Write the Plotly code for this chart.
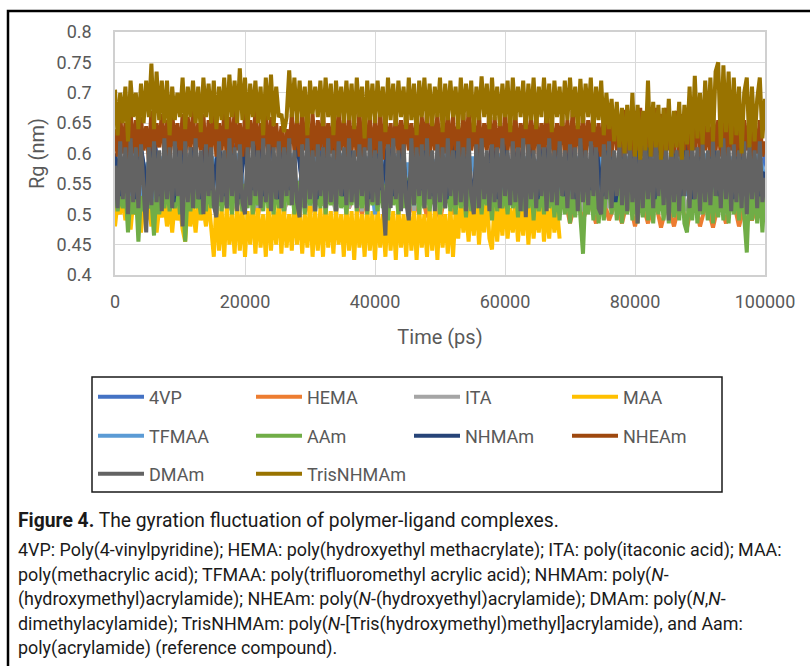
import plotly.graph_objects as go

# ---------------- sampling grid (ps) ----------------
TIME_STEP_FINE_PS = 400
TIME_STEP_COARSE_PS = 1000
TIME_END_PS = 100000
time_fine = list(range(0, TIME_END_PS + 1, TIME_STEP_FINE_PS))
time_coarse = list(range(0, TIME_END_PS + 1, TIME_STEP_COARSE_PS))

# ---------------- Rg values (nm) ----------------
rg_4vp = [
    .60, .53, .625, .54, .61, .525, .63, .545, .615, .53,
    .62, .54, .61, .53, .635, .545, .60, .53, .625, .54,
    .61, .525, .63, .54, .62, .535, .605, .545, .63, .53,
    .615, .54, .625, .53, .61, .545, .635, .535, .62, .54,
    .645, .53, .62, .54, .61, .535, .63, .545, .615, .53,
    .625, .54, .61, .535, .63, .545, .62, .53, .615, .54,
    .63, .535, .61, .545, .625, .53, .62, .54, .61, .535,
    .63, .545, .615, .53, .625, .54, .61, .535, .63, .545,
    .62, .53, .615, .54, .63, .535, .61, .545, .625, .53,
    .615, .54, .63, .535, .62, .545, .625, .53, .615, .54,
    .60]

rg_hema = [
    .52, .55, .505, .545, .51, .55, .50, .54, .515, .55,
    .505, .545, .51, .55, .50, .54, .515, .545, .505, .55,
    .51, .545, .50, .55, .515, .54, .505, .545, .51, .55,
    .50, .54, .515, .55, .505, .545, .51, .54, .50, .55,
    .515, .545, .505, .55, .51, .54, .50, .545, .495, .54,
    .49, .545, .50, .54, .495, .55, .49, .545, .50, .54,
    .495, .55, .49, .545, .50, .54, .495, .55, .49, .54,
    .485, .53, .49, .525, .485, .535, .49, .52, .485, .53,
    .48, .525, .485, .53, .478, .52, .48, .525, .478, .53,
    .48, .52, .478, .525, .485, .53, .48, .52, .49, .525,
    .50]

rg_ita = [
    .495, .56, .50, .57, .51, .565, .505, .575, .51, .56,
    .505, .57, .51, .56, .50, .575, .515, .565, .505, .57,
    .51, .56, .505, .575, .515, .565, .50, .57, .51, .56,
    .505, .575, .515, .56, .50, .57, .51, .565, .505, .575,
    .515, .56, .50, .57, .51, .565, .505, .575, .515, .56,
    .50, .57, .51, .565, .505, .575, .515, .56, .50, .57,
    .51, .565, .505, .575, .515, .56, .50, .57, .51, .565,
    .50, .56, .505, .555, .50, .565, .51, .56, .50, .555,
    .505, .56, .50, .565, .51, .555, .50, .56, .505, .565,
    .50, .555, .51, .56, .50, .565, .505, .555, .50, .56,
    .52]

rg_maa = [
    .48, .52, .50, .525, .49, .515, .475, .52, .50, .51,
    .47, .52, .49, .515, .48, .525, .47, .51, .495, .52,
    .48, .515, .47, .52, .49, .51, .475, .455, .52, .48,
    .515, .47, .52, .49, .51, .48, .525, .47, .43, .52,
    .44, .51, .43, .515, .45, .50, .435, .52, .44, .51,
    .43, .505, .45, .52, .435, .51, .445, .50, .43, .515,
    .44, .505, .45, .525, .435, .51, .445, .50, .44, .52,
    .45, .51, .435, .50, .445, .52, .43, .505, .44, .51,
    .43, .52, .445, .505, .435, .51, .45, .50, .43, .515,
    .44, .505, .425, .51, .445, .50, .43, .515, .44, .505,
    .425, .51, .445, .50, .43, .515, .44, .505, .425, .51,
    .445, .50, .43, .515, .44, .505, .425, .51, .445, .50,
    .43, .51, .44, .505, .425, .515, .445, .50, .435, .51,
    .43, .505, .46, .525, .47, .51, .455, .52, .465, .53,
    .45, .515, .47, .53, .46, .442, .52, .455, .515, .465,
    .525, .46, .51, .47, .52, .455, .515, .465, .53, .45,
    .52, .46, .51, .47, .525, .455, .515, .46, .52, .47,
    .51, .46]

rg_tfmaa = [
    .53, .59, .52, .60, .525, .585, .515, .595, .53, .59,
    .52, .60, .525, .585, .515, .595, .53, .59, .52, .60,
    .525, .585, .515, .595, .53, .59, .52, .60, .525, .585,
    .515, .595, .53, .59, .52, .60, .525, .585, .515, .595,
    .50, .59, .52, .60, .525, .585, .515, .595, .53, .59,
    .52, .60, .525, .585, .515, .595, .53, .59, .52, .60,
    .525, .585, .515, .595, .53, .59, .52, .60, .525, .585,
    .515, .595, .53, .59, .52, .60, .525, .585, .515, .595,
    .53, .59, .52, .60, .525, .585, .515, .595, .53, .59,
    .52, .60, .525, .585, .515, .595, .53, .59, .52, .60,
    .56]

rg_aam = [
    .55, .505, .535, .51, .545, .47, .53, .50, .54, .455,
    .53, .505, .55, .51, .525, .465, .545, .50, .535, .51,
    .55, .505, .53, .51, .545, .50, .535, .455, .54, .505,
    .55, .51, .53, .50, .545, .505, .555, .51, .54, .50,
    .56, .505, .545, .51, .55, .50, .555, .515, .54, .505,
    .55, .51, .56, .50, .545, .515, .55, .505, .56, .51,
    .545, .50, .555, .51, .54, .505, .56, .515, .55, .50,
    .555, .51, .545, .50, .56, .515, .55, .505, .545, .51,
    .56, .50, .55, .515, .545, .505, .555, .51, .54, .50,
    .55, .515, .56, .505, .545, .51, .555, .50, .55, .515,
    .545, .505, .56, .51, .55, .49, .555, .515, .545, .50,
    .55, .51, .56, .505, .545, .515, .555, .50, .55, .51,
    .56, .505, .545, .515, .555, .50, .55, .51, .56, .505,
    .545, .50, .555, .51, .55, .495, .56, .505, .545, .51,
    .555, .50, .55, .515, .545, .49, .56, .505, .55, .51,
    .545, .50, .555, .51, .55, .495, .56, .505, .545, .51,
    .555, .49, .55, .505, .545, .50, .56, .51, .55, .495,
    .545, .49, .555, .50, .55, .485, .54, .495, .555, .49,
    .435, .545, .50, .555, .49, .55, .485, .54, .49, .55,
    .545, .50, .555, .49, .55, .485, .54, .50, .555, .49,
    .55, .485, .545, .495, .555, .49, .54, .485, .55, .50,
    .545, .49, .555, .485, .55, .495, .54, .49, .555, .485,
    .47, .545, .49, .555, .485, .55, .50, .545, .49, .555,
    .485, .55, .495, .545, .49, .555, .485, .55, .50, .545,
    .49, .555, .485, .437, .55, .49, .545, .485, .55, .47,
    .55]

rg_nhmam = [
    .60, .53, .62, .525, .61, .54, .625, .53, .605, .52,
    .62, .535, .61, .525, .63, .54, .615, .53, .62, .525,
    .61, .54, .625, .53, .635, .525, .615, .54, .62, .53,
    .635, .525, .61, .54, .62, .53, .625, .535, .61, .525,
    .62, .54, .615, .53, .625, .525, .61, .54, .62, .53,
    .615, .525, .625, .54, .61, .53, .62, .535, .615, .525,
    .625, .54, .61, .53, .62, .525, .615, .54, .625, .53,
    .61, .525, .62, .54, .615, .53, .625, .52, .61, .54,
    .62, .53, .615, .525, .625, .54, .61, .53, .62, .525,
    .615, .54, .62, .53, .61, .525, .625, .535, .615, .53,
    .57]

rg_nheam = [
    .64, .595, .665, .60, .65, .585, .67, .60, .655, .595,
    .66, .605, .645, .59, .67, .60, .65, .61, .665, .595,
    .655, .585, .67, .605, .65, .595, .665, .59, .66, .605,
    .67, .595, .65, .605, .665, .585, .655, .60, .67, .595,
    .65, .605, .665, .59, .66, .60, .672, .605, .65, .595,
    .665, .59, .655, .605, .67, .595, .65, .60, .665, .595,
    .66, .605, .65, .595, .645, .59, .64, .60, .665, .605,
    .655, .595, .67, .605, .65, .59, .665, .595, .655, .605,
    .67, .595, .65, .60, .665, .59, .672, .605, .655, .595,
    .665, .605, .65, .595, .67, .59, .655, .605, .665, .595,
    .65, .60, .67, .59, .66, .605, .65, .595, .665, .60,
    .655, .595, .67, .605, .65, .59, .665, .595, .66, .605,
    .67, .595, .655, .605, .665, .59, .65, .60, .67, .595,
    .66, .605, .65, .59, .665, .595, .672, .605, .655, .595,
    .665, .595, .65, .605, .67, .59, .66, .60, .65, .595,
    .67, .605, .655, .595, .665, .59, .65, .605, .67, .595,
    .655, .60, .665, .595, .65, .605, .67, .59, .66, .595,
    .65, .605, .665, .595, .655, .59, .67, .60, .65, .605,
    .665, .595, .655, .605, .67, .59, .65, .595, .665, .605,
    .655, .595, .67, .605, .66, .595, .672, .60, .665, .595,
    .67, .605, .675, .595, .665, .61, .67, .595, .675, .605,
    .665, .595, .675, .605, .66, .60, .67, .595, .665, .605,
    .67, .595, .66, .605, .675, .595, .665, .605, .65, .595,
    .665, .605, .655, .595, .67, .59, .66, .605, .65, .595,
    .665, .595, .655, .605, .66, .59, .65, .60, .655, .595,
    .62]

rg_dmam = [
    .58, .51, .62, .525, .61, .50, .625, .52, .61, .51,
    .615, .53, .47, .61, .515, .62, .52, .605, .505, .625,
    .525, .61, .51, .62, .53, .605, .48, .62, .52, .61,
    .51, .625, .525, .605, .50, .615, .53, .61, .515, .495,
    .62, .52, .605, .51, .625, .53, .61, .505, .615, .52,
    .50, .61, .515, .62, .53, .605, .51, .625, .52, .615,
    .505, .61, .525, .62, .51, .61, .53, .625, .515, .605,
    .52, .495, .615, .51, .625, .525, .605, .505, .615, .53,
    .61, .51, .625, .52, .605, .505, .62, .53, .61, .515,
    .625, .52, .605, .51, .615, .53, .61, .505, .625, .52,
    .605, .515, .62, .53, .465, .615, .51, .625, .525, .605,
    .505, .615, .52, .49, .625, .515, .61, .53, .615, .51,
    .625, .525, .605, .505, .615, .52, .61, .51, .625, .53,
    .605, .515, .62, .52, .61, .505, .625, .53, .50, .615,
    .51, .625, .525, .605, .505, .615, .52, .61, .51, .625,
    .53, .605, .515, .62, .52, .61, .505, .625, .495, .615,
    .525, .605, .51, .615, .53, .61, .505, .625, .52, .605,
    .515, .62, .53, .605, .51, .615, .525, .61, .505, .625,
    .52, .605, .515, .62, .53, .61, .51, .50, .615, .525,
    .62, .51, .605, .53, .615, .515, .61, .505, .62, .52,
    .605, .485, .62, .51, .615, .525, .605, .51, .625, .53,
    .61, .515, .615, .49, .62, .52, .605, .505, .62, .53,
    .605, .51, .62, .525, .61, .505, .615, .52, .605, .515,
    .62, .53, .605, .51, .625, .525, .61, .505, .615, .52,
    .605, .51, .62, .50, .615, .525, .605, .51, .62, .52,
    .56]

rg_trisnhmam = [
    .705, .63, .70, .65, .71, .62, .72, .66, .70, .64,
    .715, .65, .72, .66, .748, .64, .735, .655, .72, .65,
    .72, .63, .71, .655, .70, .66, .725, .64, .71, .66,
    .72, .65, .71, .635, .725, .66, .715, .65, .72, .64,
    .71, .655, .725, .64, .73, .66, .72, .65, .74, .655,
    .725, .64, .715, .66, .72, .65, .71, .63, .725, .655,
    .73, .645, .71, .66, .665, .635, .66, .737, .66, .725,
    .65, .72, .66, .71, .63, .72, .665, .71, .66, .72,
    .645, .725, .66, .715, .63, .72, .66, .71, .65, .72,
    .655, .715, .64, .725, .66, .71, .625, .72, .655, .715,
    .65, .72, .66, .71, .635, .725, .655, .715, .645, .72,
    .66, .71, .64, .725, .655, .715, .63, .72, .66, .725,
    .65, .715, .645, .71, .66, .725, .635, .715, .655, .72,
    .66, .71, .64, .725, .655, .715, .66, .72, .635, .71,
    .655, .727, .66, .715, .64, .725, .655, .71, .645, .715,
    .66, .72, .635, .725, .655, .71, .66, .72, .64, .715,
    .655, .725, .64, .71, .66, .725, .65, .715, .635, .72,
    .66, .71, .645, .72, .655, .725, .66, .71, .64, .723,
    .65, .715, .66, .725, .635, .71, .655, .72, .63, .70,
    .64, .69, .62, .685, .61, .675, .60, .68, .605, .70,
    .595, .68, .59, .67, .605, .72, .595, .685, .61, .68,
    .59, .675, .605, .69, .595, .67, .61, .685, .59, .68,
    .615, .71, .605, .728, .625, .70, .615, .72, .635, .725,
    .62, .735, .75, .61, .745, .635, .735, .615, .725, .63,
    .71, .60, .70, .725, .61, .71, .62, .69, .725, .625,
    .69]

SERIES = [
    # name, values, time grid, colour, legend row
    ("4VP", rg_4vp, time_coarse, "#4472C4", "legend"),
    ("HEMA", rg_hema, time_coarse, "#ED7D31", "legend"),
    ("ITA", rg_ita, time_coarse, "#A5A5A5", "legend"),
    ("MAA", rg_maa, time_fine, "#FFC000", "legend"),
    ("TFMAA", rg_tfmaa, time_coarse, "#5B9BD5", "legend2"),
    ("AAm", rg_aam, time_fine, "#70AD47", "legend2"),
    ("NHMAm", rg_nhmam, time_coarse, "#264478", "legend2"),
    ("NHEAm", rg_nheam, time_fine, "#9E480E", "legend2"),
    ("DMAm", rg_dmam, time_fine, "#636363", "legend3"),
    ("TrisNHMAm", rg_trisnhmam, time_fine, "#997300", "legend3"),
]

X_TICKS = [0, 20000, 40000, 60000, 80000, 100000]
X_TICK_LABELS = ["0", "20000", "40000", "60000", "80000", "100000"]
Y_TICKS = [0.4, 0.45, 0.5, 0.55, 0.6, 0.65, 0.7, 0.75, 0.8]
Y_TICK_LABELS = ["0.4", "0.45", "0.5", "0.55", "0.6", "0.65", "0.7", "0.75", "0.8"]

CAPTION_TITLE = "<b>Figure 4.</b> The gyration fluctuation of polymer-ligand complexes."
CAPTION_LINES = [
    "4VP: Poly(4-vinylpyridine); HEMA: poly(hydroxyethyl methacrylate); ITA: poly(itaconic acid); MAA:",
    "poly(methacrylic acid); TFMAA: poly(trifluoromethyl acrylic acid); NHMAm: poly(<i>N</i>-",
    "(hydroxymethyl)acrylamide); NHEAm: poly(<i>N</i>-(hydroxyethyl)acrylamide); DMAm: poly(<i>N</i>,<i>N</i>-",
    "dimethylacylamide); TrisNHMAm: poly(<i>N</i>-[Tris(hydroxymethyl)methyl]acrylamide), and Aam:",
    "poly(acrylamide) (reference compound).",
]

# ---------------- layout geometry (pixels) ----------------
W, H = 810, 666
PLOT_LEFT, PLOT_RIGHT, PLOT_TOP, PLOT_BOTTOM = 115, 765, 32, 275
PLOT_W = PLOT_RIGHT - PLOT_LEFT
PLOT_H = PLOT_BOTTOM - PLOT_TOP


def px_x(px):
    return (px - PLOT_LEFT) / PLOT_W


def px_y(py):
    return (PLOT_BOTTOM - py) / PLOT_H


AXIS_GREY = "#595959"
CHART_FONT = "Roboto"
LINE_W = 4

fig = go.Figure()
for name, vals, grid, color, leg in SERIES:
    fig.add_trace(go.Scatter(
        x=grid[:len(vals)], y=vals, mode="lines", name=name,
        line=dict(color=color, width=LINE_W), legend=leg, hoverinfo="skip",
    ))

legend_common = dict(
    orientation="h", xanchor="left", yanchor="middle",
    bgcolor="rgba(0,0,0,0)", borderwidth=0,
    font=dict(family=CHART_FONT, size=18, color=AXIS_GREY),
    entrywidth=97, entrywidthmode="pixels", itemwidth=46,
    tracegroupgap=0, traceorder="normal",
)

annotations = [dict(
    xref="paper", yref="paper", x=px_x(16), y=px_y(520),
    xanchor="left", yanchor="middle", showarrow=False, text=CAPTION_TITLE,
    font=dict(family=CHART_FONT, size=19.3, color="#1a1a1a"),
)]
for line, py in zip(CAPTION_LINES, [550, 575, 599, 624, 648]):
    annotations.append(dict(
        xref="paper", yref="paper", x=px_x(16), y=px_y(py),
        xanchor="left", yanchor="middle", showarrow=False, text=line,
        font=dict(family=CHART_FONT, size=17.9, color="#1a1a1a"),
    ))

shapes = [
    # outer frame (left + top edges)
    dict(type="path", xref="paper", yref="paper",
         path=f"M {px_x(8)} {px_y(672)} L {px_x(8)} {px_y(11)} L {px_x(815)} {px_y(11)}",
         line=dict(color="black", width=2.5)),
    # legend box
    dict(type="rect", xref="paper", yref="paper",
         x0=px_x(92), x1=px_x(722), y0=px_y(377), y1=px_y(492),
         line=dict(color="#1a1a1a", width=1.5)),
]

fig.update_layout(
    width=W, height=H,
    margin=dict(l=PLOT_LEFT, r=W - PLOT_RIGHT, t=PLOT_TOP, b=H - PLOT_BOTTOM, autoexpand=False),
    paper_bgcolor="white", plot_bgcolor="white",
    font=dict(family=CHART_FONT, color=AXIS_GREY),
    xaxis=dict(
        range=[0, 100000], tickvals=X_TICKS, ticktext=X_TICK_LABELS,
        showgrid=True, gridcolor="#D9D9D9", gridwidth=1,
        showline=True, linecolor="#D0D0D0", linewidth=1.5, mirror=True,
        zeroline=False, ticks="", ticklabelstandoff=10,
        tickfont=dict(family=CHART_FONT, size=18, color=AXIS_GREY),
        title=dict(text="Time (ps)", standoff=19,
                   font=dict(family=CHART_FONT, size=20, color=AXIS_GREY)),
    ),
    yaxis=dict(
        range=[0.4, 0.8], tickvals=Y_TICKS, ticktext=Y_TICK_LABELS,
        showgrid=True, gridcolor="#D9D9D9", gridwidth=1,
        showline=True, linecolor="#D0D0D0", linewidth=1.5, mirror=True,
        zeroline=False, ticks="", ticklabelstandoff=18,
        tickfont=dict(family=CHART_FONT, size=18, color=AXIS_GREY),
        title=dict(text="Rg (nm)", standoff=7,
                   font=dict(family=CHART_FONT, size=20, color=AXIS_GREY)),
    ),
    legend=dict(x=px_x(93), y=px_y(397), **legend_common),
    legend2=dict(x=px_x(93), y=px_y(436), **legend_common),
    legend3=dict(x=px_x(93), y=px_y(474), **legend_common),
    annotations=annotations,
    shapes=shapes,
)

fig.write_html(
    "out.html",
    config={"displayModeBar": False},
    post_script="document.body.style.margin='0';document.body.style.overflow='hidden';",
)
